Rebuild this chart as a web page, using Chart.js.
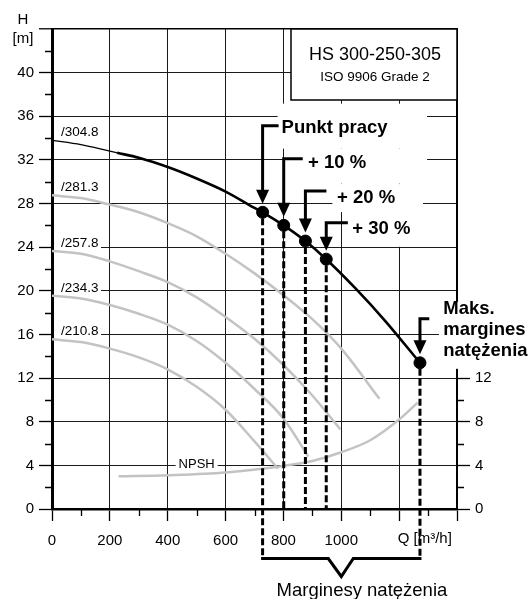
<!DOCTYPE html>
<html><head><meta charset="utf-8">
<script src="https://cdn.jsdelivr.net/npm/chart.js@4/dist/chart.umd.min.js"></script>
<style>html,body{margin:0;padding:0;background:#fff;}#wrap{width:532px;height:599px;}</style>
</head><body><div id="wrap"><canvas id="c" width="532" height="599"></canvas></div>
<script>
// ---------- data ----------
const flowTickValues = [0, 200, 400, 600, 800, 1000, 1200, 1400];
const headTickValues = [0, 4, 8, 12, 16, 20, 24, 28, 32, 36, 40, 44];
const npshTickValues = [0, 4, 8, 12];
const flowAxisLabel = 'Q [m³/h]';
const headAxisLabel = ['H', '[m]'];

const imp3048ThinQ = [0, 100, 200, 225];
const imp3048ThinH = [33.8, 33.4, 32.8, 32.65];
const imp3048Q = [225, 300, 400, 500, 600, 700, 728, 801, 876, 948, 1050, 1150, 1272];
const imp3048H = [32.65, 32.2, 31.35, 30.3, 29.1, 27.6, 27.2, 26.0, 24.56, 22.9, 20.2, 17.3, 13.4];
const imp2813Q = [0, 100, 200, 300, 400, 500, 600, 700, 800, 900, 1000, 1132];
const imp2813H = [28.75, 28.5, 27.9, 27.2, 26.2, 25.0, 23.4, 21.6, 19.6, 17.4, 14.7, 10.1];
const imp2578Q = [0, 100, 200, 300, 400, 500, 600, 700, 800, 900, 997];
const imp2578H = [23.65, 23.4, 22.7, 21.8, 20.8, 19.4, 17.6, 15.6, 13.2, 10.4, 7.3];
const imp2343Q = [0, 100, 200, 300, 400, 500, 600, 700, 800, 886];
const imp2343H = [19.55, 19.3, 18.7, 17.9, 16.9, 15.4, 13.4, 11.0, 8.3, 4.8];
const imp2108Q = [0, 100, 200, 300, 400, 500, 600, 700, 781];
const imp2108H = [15.55, 15.3, 14.7, 13.9, 12.8, 11.2, 9.1, 6.2, 3.7];
const npshQ = [230, 400, 600, 800, 900, 1000, 1100, 1200, 1264];
const npshH = [3.0, 3.1, 3.35, 3.95, 4.4, 5.2, 6.3, 8.2, 9.75];
const impellerLabels = ['/304.8', '/281.3', '/257.8', '/234.3', '/210.8'];
const impellerStartH = [33.8, 28.75, 23.65, 19.55, 15.55];
const npshLabel = 'NPSH';
const npshLabelQ = 500;
const npshLabelH = 4;

const opQ = [728, 801, 876, 948, 1272];
const opH = [27.2, 26.0, 24.56, 22.9, 13.4];
const opLabels = [['Punkt pracy'], ['+ 10 %'], ['+ 20 %'], ['+ 30 %'], ['Maks.', 'margines', 'natężenia']];
const marginLabel = 'Marginesy natężenia';
const titleLines = ['HS 300-250-305', 'ISO 9906 Grade 2'];

// ---------- helpers ----------
const FONT = '"Liberation Sans", Arial, Helvetica, sans-serif';
const pts = (qs, hs) => qs.map((q, i) => ({x: q, y: hs[i]}));
const GRAY = '#c3c3c3';

// annotation layout (pixel offsets from each point)
const opStyle = [
  {by: -86.6, hl: 16, tx: 19, ty: 7.3, box: [15, -22, 30, 23]},
  {by: -66.7, hl: 19, tx: 24.3, ty: 9.3, box: [2, -10, 30, 25]},
  {by: -50, hl: 21, tx: 31.6, ty: 11.7, box: [27, -7, 34, 21]},
  {by: -36.4, hl: 21.6, tx: 26, ty: 11.7, box: [21, -11, 25, 24]},
  {by: -44, hl: 9.3, tx: 23.3, ty: -5, box: [19, -17, -80, 50]}
];

const overlay = {
  id: 'overlay',
  beforeDatasetsDraw(chart) {
    const {ctx, chartArea: ca, scales: {x, y, y2}} = chart;
    ctx.save();
    ctx.fillStyle = '#fff';
    impellerStartH.forEach(h => {
      const cy = y.getPixelForValue(h);
      ctx.fillRect(x.getPixelForValue(0) + 2, cy - 18, 47, 15.5);
    });
    const nx = x.getPixelForValue(npshLabelQ), ny = y.getPixelForValue(npshLabelH);
    ctx.fillRect(nx - 21, ny - 9, 42, 13);
    opQ.forEach((q, i) => {
      const px = x.getPixelForValue(q), py = y.getPixelForValue(opH[i]);
      const s = opStyle[i], by = py + s.by;
      const right = s.box[2] < 0 ? chart.width : ca.right - s.box[2];
      ctx.fillRect(px + s.box[0], by + s.box[1], right - (px + s.box[0]), s.box[3] - s.box[1]);
    });
    const tl = ca.right - 166, tt = ca.top, tw = 166, th = 71;
    ctx.fillRect(tl, tt, tw, th);
    ctx.strokeStyle = '#000'; ctx.lineWidth = 1.5;
    ctx.strokeRect(tl, tt, tw, th);
    ctx.fillStyle = '#000';
    ctx.textAlign = 'center'; ctx.textBaseline = 'alphabetic';
    ctx.font = '18px ' + FONT;
    ctx.fillText(titleLines[0], tl + tw / 2 + 1, tt + 31);
    ctx.font = '13.5px ' + FONT;
    ctx.fillText(titleLines[1], tl + tw / 2 + 1, tt + 52);

    ctx.strokeStyle = '#000'; ctx.lineWidth = 1.3;
    ctx.beginPath();
    for (let q = 100; q < 1400; q += 200) {
      const px = Math.round(x.getPixelForValue(q)) + 0.5;
      ctx.moveTo(px, ca.bottom); ctx.lineTo(px, ca.bottom + 7);
    }
    for (let h = 2; h < 44; h += 4) {
      const py = Math.round(y.getPixelForValue(h)) + 0.5;
      ctx.moveTo(ca.left - 7, py); ctx.lineTo(ca.left, py);
    }
    for (let h = 2; h < 12; h += 4) {
      const py = Math.round(y2.getPixelForValue(h)) + 0.5;
      ctx.moveTo(ca.right, py); ctx.lineTo(ca.right + 7, py);
    }
    ctx.stroke();

    ctx.font = '15px ' + FONT; ctx.textAlign = 'center'; ctx.textBaseline = 'middle';
    ctx.fillText(headAxisLabel[0], 23, 19.5);
    ctx.fillText(headAxisLabel[1], 23, 38.5);
    ctx.textAlign = 'left';
    ctx.fillText(flowAxisLabel, x.getPixelForValue(1200) - 1.5, ca.bottom + 30);

    ctx.font = '13.5px ' + FONT; ctx.textAlign = 'left'; ctx.textBaseline = 'alphabetic';
    impellerLabels.forEach((t, i) => {
      ctx.fillText(t, x.getPixelForValue(0) + 9, y.getPixelForValue(impellerStartH[i]) - 4.2);
    });
    ctx.textAlign = 'center';
    ctx.font = '13px ' + FONT;
    ctx.fillText(npshLabel, nx, ny + 2.3);
    ctx.restore();
  },
  afterDatasetsDraw(chart) {
    const {ctx, chartArea: ca, scales: {x, y}} = chart;
    ctx.save();
    const bracketY = ca.bottom + 49.5;
    ctx.strokeStyle = '#000'; ctx.lineWidth = 3; ctx.setLineDash([7, 3]);
    opQ.forEach((q, i) => {
      const px = x.getPixelForValue(q), py = y.getPixelForValue(opH[i]);
      const end = (i === 0 || i === opQ.length - 1) ? bracketY : ca.bottom;
      ctx.beginPath(); ctx.moveTo(px, py + 6); ctx.lineTo(px, end); ctx.stroke();
    });
    ctx.setLineDash([]);
    const xl = x.getPixelForValue(opQ[0]), xr = x.getPixelForValue(opQ[opQ.length - 1]);
    const xm = (xl + xr) / 2;
    ctx.lineJoin = 'miter';
    ctx.beginPath();
    ctx.moveTo(xl - 1.5, bracketY); ctx.lineTo(xm - 13, bracketY); ctx.lineTo(xm, bracketY + 18);
    ctx.lineTo(xm + 12, bracketY); ctx.lineTo(xr + 1.5, bracketY);
    ctx.stroke();
    ctx.fillStyle = '#000';
    ctx.font = '18.5px ' + FONT; ctx.textAlign = 'left'; ctx.textBaseline = 'alphabetic';
    ctx.fillText(marginLabel, xl + 14, bracketY + 37);

    opQ.forEach((q, i) => {
      const px = x.getPixelForValue(q), py = y.getPixelForValue(opH[i]);
      const s = opStyle[i], by = py + s.by;
      const tip = py - 8.5, headH = 14, hw = 6.5;
      ctx.lineWidth = 3; ctx.lineCap = 'butt';
      ctx.beginPath();
      ctx.moveTo(px + s.hl, by); ctx.lineTo(px, by); ctx.lineTo(px, tip - headH + 1);
      ctx.stroke();
      ctx.beginPath();
      ctx.moveTo(px - hw, tip - headH); ctx.lineTo(px + hw, tip - headH); ctx.lineTo(px, tip);
      ctx.closePath(); ctx.fill();
      ctx.font = 'bold 18.5px ' + FONT;
      opLabels[i].forEach((t, k) => {
        ctx.fillText(t, px + s.tx, by + s.ty + k * 21.2);
      });
    });
    ctx.restore();
  }
};

const curveDs = (qs, hs, color, width) => ({
  data: pts(qs, hs), borderColor: color, borderWidth: width, pointRadius: 0,
  fill: false, cubicInterpolationMode: 'monotone', borderCapStyle: 'butt'
});

new Chart(document.getElementById('c'), {
  type: 'line',
  data: {
    datasets: [
      curveDs(imp2813Q, imp2813H, GRAY, 2.5),
      curveDs(imp2578Q, imp2578H, GRAY, 2.5),
      curveDs(imp2343Q, imp2343H, GRAY, 2.5),
      curveDs(imp2108Q, imp2108H, GRAY, 2.5),
      curveDs(npshQ, npshH, GRAY, 2.5),
      curveDs(imp3048ThinQ, imp3048ThinH, '#000', 1.2),
      curveDs(imp3048Q, imp3048H, '#000', 2.6),
      {type: 'scatter', data: pts(opQ, opH), pointRadius: 6, pointBackgroundColor: '#000',
       pointBorderColor: '#000', showLine: false}
    ]
  },
  options: {
    responsive: false, animation: false, devicePixelRatio: 1,
    layout: {padding: {top: 29, left: 0, right: 0, bottom: 0}},
    plugins: {legend: {display: false}, tooltip: {enabled: false}},
    scales: {
      x: {
        type: 'linear', min: 0, max: 1400,
        afterFit: s => { s.height = 90; },
        afterBuildTicks: s => { s.ticks = flowTickValues.map(v => ({value: v})); },
        ticks: {color: '#000', padding: 11, font: {size: 15, family: FONT}, maxRotation: 0,
          callback: v => (v <= 1000 ? String(v) : '')},
        grid: {color: c => (c.tick && (c.tick.value === 0 || c.tick.value === 1400)) ? 'rgba(0,0,0,0)' : '#1a1a1a',
          lineWidth: 1, tickLength: 12, tickColor: '#000', tickWidth: 1.3},
        border: {display: true, color: '#000', width: 2.5}
      },
      y: {
        type: 'linear', min: 0, max: 44, position: 'left',
        afterFit: s => { s.width = 52; },
        afterBuildTicks: s => { s.ticks = headTickValues.map(v => ({value: v})); },
        ticks: {color: '#000', padding: 5, font: {size: 15, family: FONT},
          callback: v => (v === 44 ? '' : String(v))},
        grid: {color: c => (c.tick && c.tick.value === 0) ? 'rgba(0,0,0,0)' : (c.tick && c.tick.value === 44 ? '#000' : '#1a1a1a'),
          lineWidth: c => (c.tick && c.tick.value === 44) ? 1.6 : 1,
          tickLength: 13, tickColor: '#000', tickWidth: 1.3},
        border: {display: true, color: '#000', width: 3}
      },
      y2: {
        type: 'linear', min: 0, max: 44, position: 'right',
        afterFit: s => { s.width = 75; },
        afterBuildTicks: s => { s.ticks = headTickValues.map(v => ({value: v})); },
        ticks: {color: '#000', padding: 5, font: {size: 15, family: FONT},
          callback: v => (npshTickValues.includes(v) ? String(v) : '')},
        grid: {drawOnChartArea: false, tickLength: 13, tickWidth: 1.3,
          tickColor: c => (c.tick && npshTickValues.includes(c.tick.value)) ? '#000' : 'rgba(0,0,0,0)'},
        border: {display: true, color: '#000', width: 2}
      }
    }
  },
  plugins: [overlay]
});
</script>
</body></html>
